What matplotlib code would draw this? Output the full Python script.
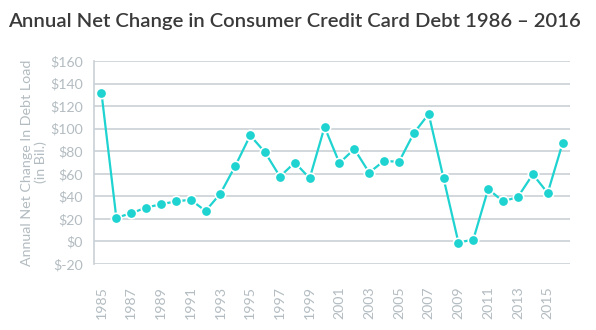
import matplotlib
matplotlib.use("Agg")
import matplotlib.pyplot as plt

years = list(range(1985, 2017))
values = [132, 21, 25, 30, 33, 35.5, 37, 27, 42.5, 67, 94, 79, 57.5, 70, 56,
          101.5, 69.5, 82, 61, 71.5, 70.5, 96, 113, 56, -1, 1.7, 46.5, 35.5,
          39.5, 59.5, 43, 87]
yticks = [-20, 0, 20, 40, 60, 80, 100, 120, 140, 160]
ytick_labels = ["$-20", "$0", "$20", "$40", "$60", "$80", "$100", "$120", "$140", "$160"]
xticks = list(range(1985, 2016, 2))

title = "Annual Net Change in Consumer Credit Card Debt 1986 \u2013 2016"
ylabel = "Annual Net Change In Debt Load\n(in Bil.)"

plt.rcParams['font.family'] = ['Lato', 'DejaVu Sans']

line_c = "#1ed3d0"
grid_c = "#c9d1d6"
text_c = "#b3bcc1"

fig = plt.figure(figsize=(5.96, 3.3), dpi=100)
ax = fig.add_axes([94/596, 1-264/330, (570-94)/596, (264-61)/330])

ax.plot(years, values, color=line_c, lw=1.6, marker='o', ms=7.5,
        markerfacecolor=line_c, markeredgecolor='white', markeredgewidth=1.2,
        zorder=3)

ax.set_xlim(1984.5, 2016.5)
ax.set_ylim(-20, 160)
ax.set_yticks(yticks)
ax.set_yticklabels(ytick_labels)
ax.set_xticks(xticks)
ax.set_xticklabels([str(x) for x in xticks], rotation=90)
ax.tick_params(axis='both', length=0, colors=text_c, labelsize=10.2)
ax.tick_params(axis='x', pad=16)
ax.tick_params(axis='y', pad=8)
ax.grid(axis='y', color=grid_c, lw=1.2)
ax.set_axisbelow(True)
for s in ['top', 'right', 'bottom']:
    ax.spines[s].set_visible(False)
ax.spines['left'].set_color(grid_c)
ax.spines['left'].set_linewidth(1.2)

ax.set_ylabel(ylabel, color=text_c, fontsize=10.3, linespacing=1.15)
ax.yaxis.set_label_coords((47 - 94) / 476, 0.5)

fig.text(8/596, 1-21/330, title, fontsize=14.6, fontweight='semibold', color='#3a3a3a',
         ha='left', va='center')

fig.savefig("out.png", dpi=100, facecolor='white')
